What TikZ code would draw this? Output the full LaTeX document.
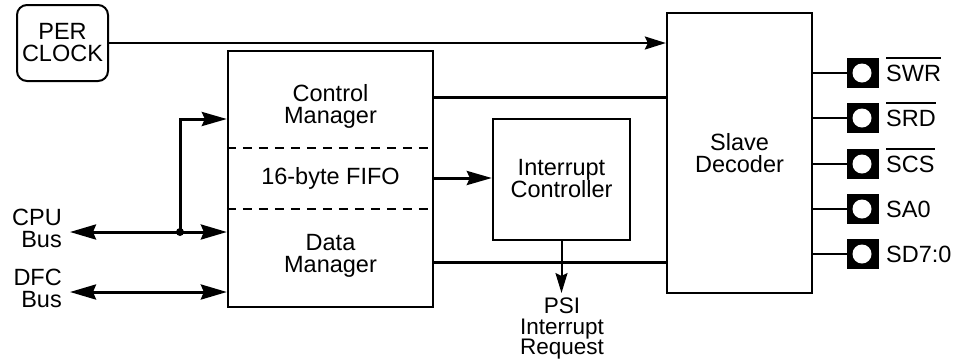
\documentclass[tikz,border=0pt]{standalone}
\usepackage{fontspec}
\setmainfont{Liberation Sans}
\usetikzlibrary{arrows.meta}
\newcommand\myovl[1]{\setbox0\hbox{#1}\rlap{\rule[22.4pt]{\wd0}{1.7pt}}\box0}
\begin{document}
\begin{tikzpicture}[x=1pt,y=-1pt,
  txt/.style={font=\fontsize{23.5}{22}\selectfont, align=center, inner sep=0pt},
  blk/.style={draw, line width=2.3pt, inner sep=0pt},
  tipA/.style={-{Stealth[length=25pt,width=14pt,inset=3pt]}},
  tipC/.style={-{Stealth[length=21pt,width=13pt,inset=3pt]}},
  tipB/.style={{Stealth[length=26pt,width=15pt,inset=3pt]}-{Stealth[length=26pt,width=15pt,inset=3pt]}},
  wire/.style={line width=2pt},
  bus/.style={line width=3pt},
  pinbox/.style={fill=black, minimum width=32pt, minimum height=30pt, inner sep=0pt},
  pinlbl/.style={font=\fontsize{23.5}{22}\selectfont, inner sep=0pt, anchor=base west}
]
\useasboundingbox (0,0) rectangle (966,360);

% blocks
\node[blk, line width=2pt, rounded corners=10pt, minimum width=91pt, minimum height=76pt] (clk) at (62.5,43) {};
\node[txt] (clkt) at (62.5,43) {PER\\CLOCK};
\node[blk, minimum width=205pt, minimum height=256pt] (mgr) at (330.5,179) {};
\node[blk, minimum width=137pt, minimum height=121pt] (intc) at (561.5,179.5) {};
\node[blk, minimum width=145pt, minimum height=280pt] (sd) at (739.5,153) {};

\draw[line width=2pt, dash pattern=on 9pt off 7pt] (mgr.west |- 0,148) -- (mgr.east |- 0,148);
\draw[line width=2pt, dash pattern=on 9pt off 7pt] (mgr.west |- 0,209) -- (mgr.east |- 0,209);

\node[txt] (cm) at (330.5,106) {Control\\Manager};
\node[txt] (fifo) at (330.5,178) {16-byte FIFO};
\node[txt] (dm) at (330.5,256) {Data\\Manager};
\node[txt] (intct) at (561.5,178.5) {Interrupt\\Controller};
\node[txt] (sdt) at (739.5,153) {Slave\\Decoder};

\node[txt, align=right, anchor=east] (cpu) at (62,228) {CPU\\Bus};
\node[txt, align=right, anchor=east] (dfc) at (62,288) {DFC\\Bus};
\node[txt, font=\fontsize{22.5}{20.5}\selectfont, anchor=north] (psi) at (562,298) {PSI\\Interrupt\\Request};

% connectors
\draw[wire, tipC] (clk.east) -- (clk.east -| sd.west);
\draw[bus] (mgr.east |- 0,97) -- (sd.west |- 0,97);
\draw[bus] (mgr.east |- 0,262) -- (sd.west |- 0,262);
\draw[bus, tipA] (mgr.east |- 0,178) -- (intc.west |- 0,178);
\coordinate (psitop) at (561.5,293);
\draw[wire, -{Stealth[length=20pt,width=12pt,inset=3pt]}] (intc.south) -- (psitop);

\coordinate (cpuend) at (70,232);
\coordinate (dfcend) at (70,292);
\coordinate (j) at (180,232);
\draw[bus, tipB] (cpuend) -- (mgr.west |- cpuend);
\draw[bus, tipB] (dfcend) -- (mgr.west |- dfcend);
\draw[bus, tipA] (j) |- (mgr.west |- 0,119);
\fill (j) circle (4pt);

% pins
\foreach \n/\yy/\lbl/\lw in {1/73/\myovl{SWR}/1.7pt, 2/118/\myovl{SRD}/1.7pt, 3/164/\myovl{SCS}/1.7pt, 4/209/SA0/1.7pt, 5/254/SD7:0/2.8pt}{
  \node[pinbox] (p\n) at (863,\yy) {};
  \fill[white] (862,\yy) circle (9.5pt);
  \draw[line width=\lw] (sd.east |- p\n) -- (p\n.west);
  \node[pinlbl] (l\n) at (886,\yy+8) {\lbl};
}
\end{tikzpicture}
\end{document}
